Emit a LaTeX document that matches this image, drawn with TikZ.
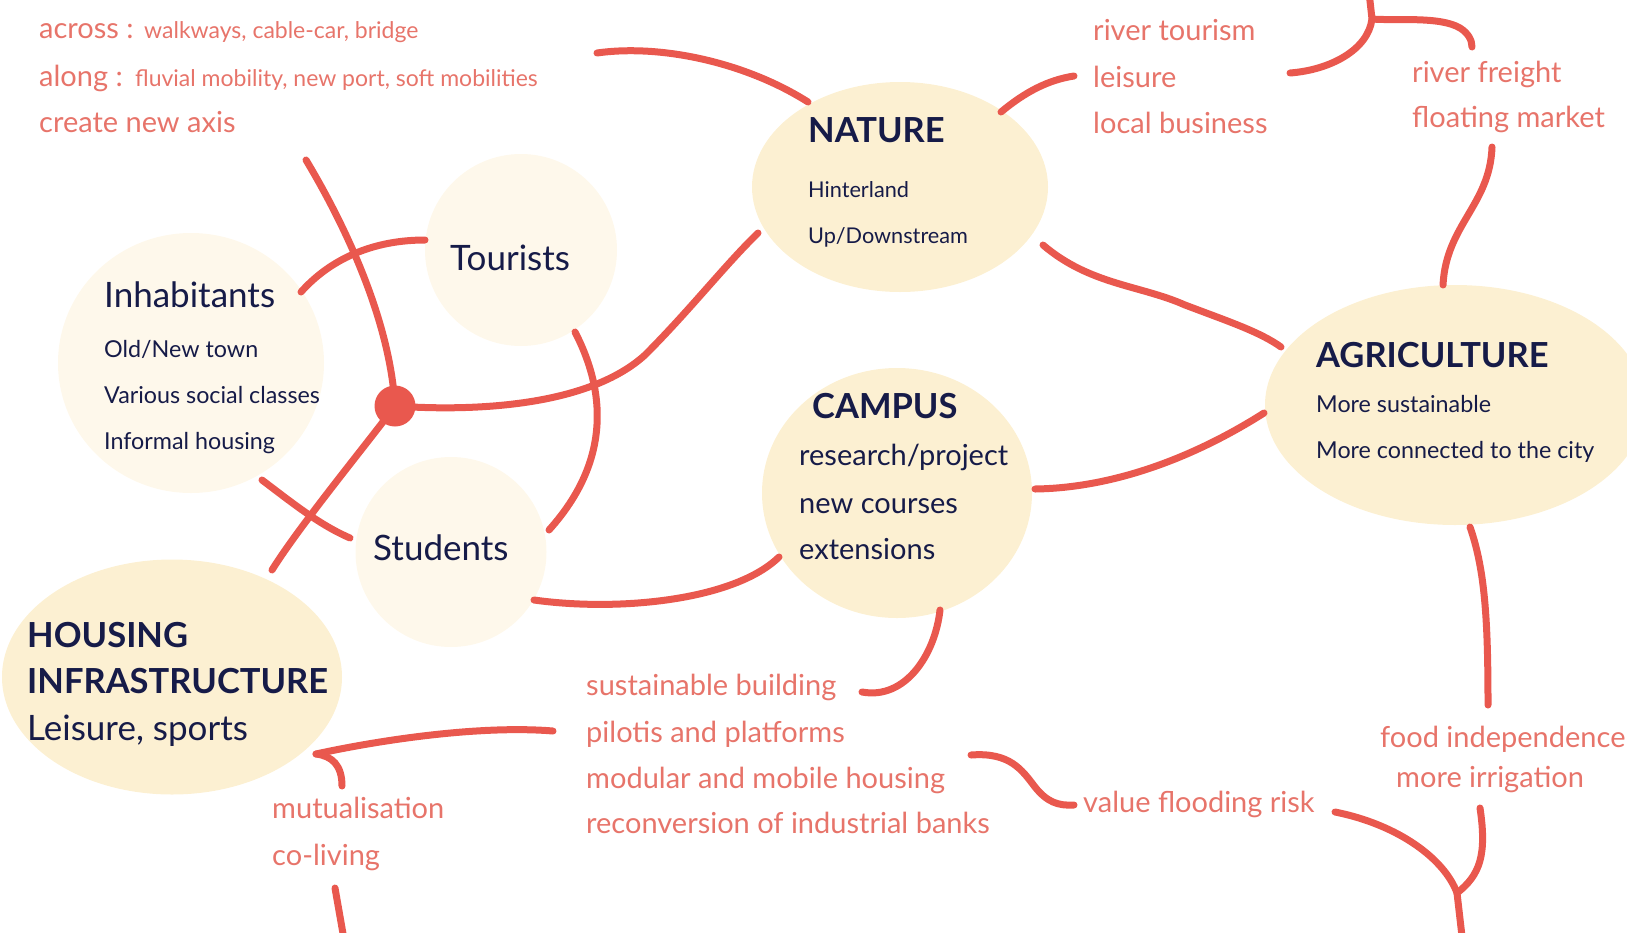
\documentclass[tikz,border=0pt]{standalone}
\usepackage{fontspec}
\setmainfont{Lato}
\usetikzlibrary{shapes.geometric}
\definecolor{lnred}{RGB}{233,88,78}
\definecolor{txred}{RGB}{231,116,106}
\definecolor{navy}{RGB}{22,27,72}
\definecolor{creamA}{RGB}{252,240,210}
\definecolor{creamB}{RGB}{254,248,235}
\begin{document}
\begin{tikzpicture}[x=1pt,y=-1pt,
 blobA/.style={ellipse, fill=creamA, inner sep=0},
 blobB/.style={ellipse, fill=creamB, inner sep=0},
 conn/.style={draw=lnred, line width=7pt, line cap=round, line join=round},
 rt/.style={text=txred, anchor=base west, inner sep=0, font=\fontsize{29}{32}\selectfont},
 rs/.style={text=txred, anchor=base west, inner sep=0, font=\fontsize{23}{26}\selectfont},
 tt/.style={text=navy, anchor=base west, inner sep=0, font=\bfseries\fontsize{34.5}{38}\selectfont},
 bt/.style={text=navy, anchor=base west, inner sep=0, font=\fontsize{35}{38}\selectfont},
 ns/.style={text=navy, anchor=base west, inner sep=0, font=\fontsize{21.7}{25}\selectfont},
 st/.style={text=navy, anchor=base west, inner sep=0, font=\fontsize{23.3}{26}\selectfont},
 ct/.style={text=navy, anchor=base west, inner sep=0, font=\fontsize{29}{32}\selectfont},
]
\useasboundingbox (0,0) rectangle (1627,932);
\clip (0,0) rectangle (1627,932);
% blobs
\node[blobA, minimum width=296pt, minimum height=210pt] (nature) at (900,187) {};
\node[blobA, minimum width=270pt, minimum height=250pt] (campus) at (897,493) {};
\node[blobA, minimum width=380pt, minimum height=240pt] (agri) at (1455,405) {};
\node[blobA, minimum width=340pt, minimum height=235pt] (housing) at (172,677) {};
\node[blobB, minimum width=266pt, minimum height=260pt] (inhab) at (191,363) {};
\node[blobB, minimum width=192pt, minimum height=192pt] (tour) at (521,250) {};
\node[blobB, minimum width=191pt, minimum height=190pt] (stud) at (451,552) {};
% hub
\node[circle, fill=lnred, minimum size=41pt, inner sep=0] (hub) at (395,406) {};
% coordinates
\coordinate (c1a) at (597,53);   \coordinate (c1b) at (808,102);
\coordinate (c2a) at (1001,112); \coordinate (c2b) at (1074,76);
\coordinate (c3a) at (1290,73);  \coordinate (c3j) at (1372,19);
\coordinate (c3t) at (1369,-8);  \coordinate (c3b) at (1472,47);
\coordinate (c4a) at (306,160);  \coordinate (c4b) at (272,570);
\coordinate (c5a) at (301,292);  \coordinate (c5b) at (425,240);
\coordinate (c6b) at (758,233);
\coordinate (c7a) at (575,332);  \coordinate (c7b) at (549,530);
\coordinate (c8a) at (262,480);  \coordinate (c8b) at (350,538);
\coordinate (c9a) at (534,600);  \coordinate (c9b) at (779,557);
\coordinate (c10a) at (1035,489); \coordinate (c10b) at (1264,413);
\coordinate (c11a) at (1043,245); \coordinate (c11b) at (1281,347);
\coordinate (c12a) at (1443,285); \coordinate (c12b) at (1492,147);
\coordinate (c13a) at (940,610);  \coordinate (c13b) at (862,692);
\coordinate (c14a) at (553,731);  \coordinate (c14j) at (316,754); \coordinate (c14b) at (342,786);
\coordinate (c15a) at (335,888);  \coordinate (c15b) at (345,945);
\coordinate (c16a) at (971,755);  \coordinate (c16b) at (1074,805);
\coordinate (c17a) at (1335,812); \coordinate (c17j) at (1457,893);
\coordinate (c17b) at (1480,808); \coordinate (c17c) at (1463,945);
\coordinate (c18a) at (1470,527); \coordinate (c18b) at (1488,705);
% connectors
\draw[conn] (c1a) .. controls (660,44) and (745,62) .. (c1b);
\draw[conn] (c2a) .. controls (1025,92) and (1048,80) .. (c2b);
\draw[conn] (c3a) .. controls (1330,70) and (1368,50) .. (c3j) -- (c3t);
\draw[conn] (c3j) .. controls (1395,21) and (1440,16) .. (1460,28) .. controls (1468,33) and (1472,40) .. (c3b);
\draw[conn] (c4a) .. controls (345,225) and (390,320) .. (hub.center);
\draw[conn] (hub.center) .. controls (370,440) and (300,525) .. (c4b);
\draw[conn] (c5a) .. controls (325,265) and (365,240) .. (c5b);
\draw[conn] (hub.center) .. controls (480,412) and (590,405) .. (645,355) .. controls (690,310) and (725,265) .. (c6b);
\draw[conn] (c7a) .. controls (605,390) and (612,460) .. (c7b);
\draw[conn] (c8a) .. controls (295,505) and (320,525) .. (c8b);
\draw[conn] (c9a) .. controls (620,612) and (735,600) .. (c9b);
\draw[conn] (c10a) .. controls (1110,488) and (1190,460) .. (c10b);
\draw[conn] (c11a) .. controls (1090,285) and (1140,285) .. (1185,305) .. controls (1230,322) and (1260,332) .. (c11b);
\draw[conn] (c12a) .. controls (1446,225) and (1490,205) .. (c12b);
\draw[conn] (c13a) .. controls (935,655) and (905,700) .. (c13b);
\draw[conn] (c14a) .. controls (480,725) and (380,740) .. (c14j);
\draw[conn] (c14b) .. controls (342,765) and (332,756) .. (c14j);
\draw[conn] (c15a) -- (c15b);
\draw[conn] (c16a) .. controls (1010,752) and (1022,770) .. (1035,787) .. controls (1047,802) and (1058,806) .. (c16b);
\draw[conn] (c17a) .. controls (1400,825) and (1445,860) .. (c17j);
\draw[conn] (c17b) .. controls (1487,855) and (1480,875) .. (c17j) -- (c17c);
\draw[conn] (c18a) .. controls (1485,570) and (1488,620) .. (c18b);
% texts top-left
\node[rt] (across) at (39,38) {across :};
\node[rs] (acrossl) at (144,38) {walkways, cable-car, bridge};
\node[rt] (along) at (39,86) {along :};
\node[rs] (alongl) at (135,86) {fluvial mobility, new port, soft mobilities};
\node[rt] (axis) at (39,132) {create new axis};
% nature
\node[tt] (natT) at (808,142) {NATURE};
\node[ns] (nat1) at (808,197) {Hinterland};
\node[ns] (nat2) at (808,243) {Up/Downstream};
% tourists, inhabitants, students
\node[bt] (tourT) at (450,270) {Tourists};
\node[bt] (inhT) at (104,307) {Inhabitants};
\node[st] (inh1) at (104,357) {Old/New town};
\node[st] (inh2) at (104,403) {Various social classes};
\node[st] (inh3) at (104,449) {Informal housing};
\node[bt] (studT) at (373,560) {Students};
% campus
\node[tt] (camT) at (812,418) {CAMPUS};
\node[ct] (cam1) at (799,465) {research/project};
\node[ct] (cam2) at (799,513) {new courses};
\node[ct] (cam3) at (799,559) {extensions};
% agriculture
\node[tt] (agrT) at (1316,367) {AGRICULTURE};
\node[st] (agr1) at (1316,412) {More sustainable};
\node[st] (agr2) at (1316,458) {More connected to the city};
% housing
\node[tt] (houT1) at (27,647) {HOUSING};
\node[tt] (houT2) at (27,693) {INFRASTRUCTURE};
\node[bt] (hou1) at (27,740) {Leisure, sports};
% red right
\node[rt] (rr1) at (1093,40) {river tourism};
\node[rt] (rr2) at (1093,87) {leisure};
\node[rt] (rr3) at (1093,133) {local business};
\node[rt] (rf1) at (1412,82) {river freight};
\node[rt] (rf2) at (1412,127) {floating market};
% red bottom
\node[rt] (b1) at (586,695) {sustainable building};
\node[rt] (b2) at (586,742) {pilotis and platforms};
\node[rt] (b3) at (586,788) {modular and mobile housing};
\node[rt] (b4) at (586,833) {reconversion of industrial banks};
\node[rt] (m1) at (272,818) {mutualisation};
\node[rt] (m2) at (272,865) {co-living};
\node[rt] (vf) at (1083,812) {value flooding risk};
\node[rt] (fi) at (1380,747) {food independence};
\node[rt] (mi) at (1396,787) {more irrigation};
\end{tikzpicture}
\end{document}
